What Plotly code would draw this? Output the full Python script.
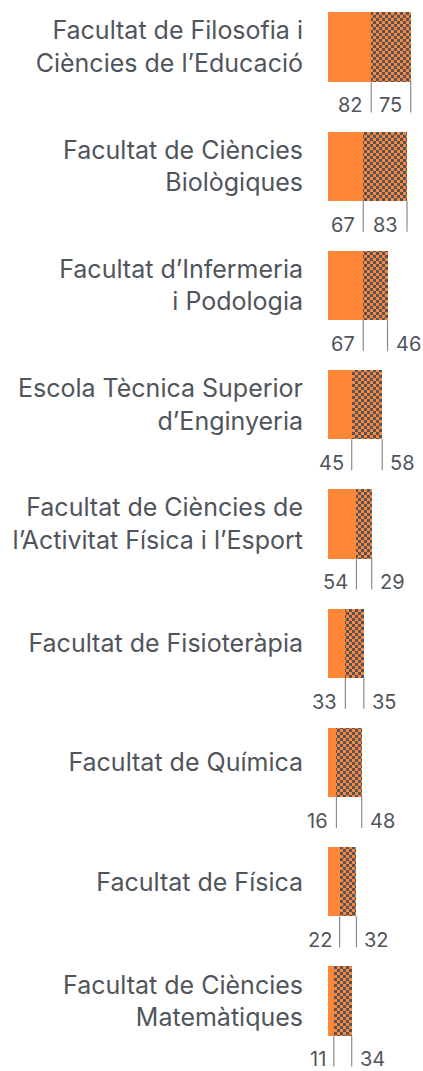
import plotly.graph_objects as go

# faculty names (top to bottom) and the two series
facultats = [
    "Facultat de Filosofia i<br>Ciències de l’Educació",
    "Facultat de Ciències<br>Biològiques",
    "Facultat d’Infermeria<br>i Podologia",
    "Escola Tècnica Superior<br>d’Enginyeria",
    "Facultat de Ciències de<br>l’Activitat Física i l’Esport",
    "Facultat de Fisioteràpia",
    "Facultat de Química",
    "Facultat de Física",
    "Facultat de Ciències<br>Matemàtiques",
]
solid_vals = [82, 67, 67, 45, 54, 33, 16, 22, 11]
checker_vals = [75, 83, 46, 58, 29, 35, 48, 32, 34]

ORANGE = "#ff8636"
DARK = "#50545c"
TEXT = "#50555c"
LINE = "#8c8c8c"
BAR_W = 0.58
FONT = "Inter"

rows = list(range(len(facultats)))

fig = go.Figure()
fig.add_trace(go.Bar(
    y=rows, x=solid_vals, orientation="h", width=BAR_W,
    marker=dict(color=ORANGE, line=dict(width=0)),
    hoverinfo="skip",
))
fig.add_trace(go.Bar(
    y=rows, x=checker_vals, orientation="h", width=BAR_W,
    marker=dict(
        color=ORANGE, line=dict(width=0),
        pattern=dict(path="M0,0H3V3H0Z M3,3H6V6H3Z", size=6,
                     fgcolor=DARK, bgcolor=ORANGE, fgopacity=1),
    ),
    hoverinfo="skip",
))

# tick marks under the bars and the value labels
for i, (a, b) in enumerate(zip(solid_vals, checker_vals)):
    total = a + b
    for xv in (a, total):
        fig.add_shape(type="line", x0=xv, x1=xv, y0=i + BAR_W / 2, y1=i + 0.55,
                      line=dict(color=LINE, width=1.2))
    fig.add_annotation(x=a, y=i + 0.49, text=str(a), showarrow=False,
                       xanchor="right", xshift=-6, yanchor="middle")
    if b >= 70:
        fig.add_annotation(x=a + b / 2, y=i + 0.49, text=str(b), showarrow=False,
                           xanchor="center", yanchor="middle")
    else:
        fig.add_annotation(x=total, y=i + 0.49, text=str(b), showarrow=False,
                           xanchor="left", xshift=6, yanchor="middle")

fig.update_annotations(font=dict(family=FONT, size=20, color=TEXT))

fig.update_layout(
    barmode="stack",
    width=423, height=1071,
    margin=dict(l=328, r=0, t=0, b=0),
    paper_bgcolor="white", plot_bgcolor="white",
    showlegend=False,
    font=dict(family=FONT, color=TEXT),
)
fig.update_xaxes(range=[0, 180.3], visible=False, fixedrange=True)
fig.update_yaxes(
    range=[8.587, -0.394], tickvals=rows, ticktext=facultats,
    tickfont=dict(family=FONT, size=25, color=TEXT),
    showgrid=False, zeroline=False, ticks="", ticklabelstandoff=24,
    fixedrange=True,
)

fig.write_html("out.html", config={"displayModeBar": False},
               post_script="document.body.style.margin='0';")
